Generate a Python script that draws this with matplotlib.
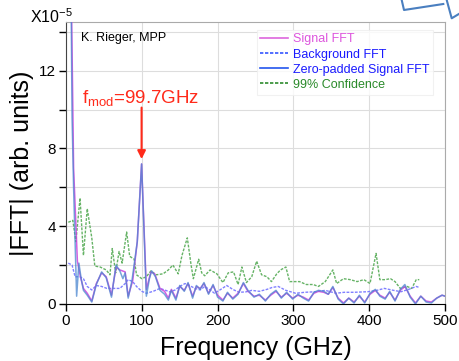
import matplotlib
matplotlib.use("Agg")
import matplotlib.pyplot as plt
from matplotlib.lines import Line2D

plt.rcParams['font.family'] = ['Liberation Sans', 'DejaVu Sans']
plt.rcParams['mathtext.fontset'] = 'custom'
plt.rcParams['mathtext.rm'] = 'Liberation Sans'
plt.rcParams['mathtext.it'] = 'Liberation Sans:italic'

# signal FFT (x1e-5)
sig_f = [5, 10, 15, 19, 23, 28, 34, 40, 47, 53, 60, 66, 71, 78, 82, 88, 94, 99.7,
         106, 112, 117, 124, 130, 135, 139, 145, 150, 156, 161, 167, 172, 177, 182,
         188, 194, 200, 207, 213, 220, 227, 234, 240, 248, 255, 263, 270, 277, 284,
         291, 299, 306, 313, 320, 327, 333, 340, 346, 352, 359, 366, 373, 380, 387,
         394, 401, 408, 414, 421, 427, 434, 441, 447, 454, 461, 468, 475, 482, 489,
         496, 500]
sig_v = [22, 7.0, 2.2, 1.4, 0.8, 0.55, 0.15, 1.05, 1.6, 1.4, 0.45, 1.9, 1.75, 1.65,
         0.4, 1.2, 3.2, 7.2, 0.75, 1.65, 1.55, 0.8, 0.65, 0.3, 0.75, 0.3, 0.9, 0.7,
         1.05, 0.4, 0.9, 0.8, 1.05, 0.55, 0.95, 0.45, 0.2, 0.55, 0.3, 0.55, 1.05,
         0.65, 0.4, 0.45, 0.2, 0.45, 0.65, 0.35, 0.55, 0.3, 0.45, 0.35, 0.2, 0.55,
         0.65, 0.6, 0.5, 0.85, 0.3, 0.05, 0.3, 0.1, 0.4, 0.1, 0.5, 0.7, 0.45, 0.3,
         0.6, 0.2, 0.7, 0.9, 0.4, 0.05, 0.4, 0.15, 0.1, 0.3, 0.45, 0.4]

# zero-padded signal FFT
zp_f = [5, 8, 10, 14, 17, 20, 23, 28, 34, 40, 47, 53, 60, 63, 66, 71, 75, 78, 82,
        87, 94, 99.7, 106, 110, 113, 118, 124, 130, 135, 139, 145, 150, 156, 161,
        167, 172, 177, 182, 188, 194, 200, 207, 213, 220, 227, 234, 240, 248, 255,
        263, 270, 277, 284, 291, 299, 306, 313, 320, 327, 333, 340, 346, 352, 359,
        366, 373, 380, 387, 394, 401, 408, 414, 421, 427, 434, 441, 447, 454, 461,
        468, 475, 482, 489, 496, 500]
zp_v = [24, 9.6, 6.0, 0.4, 2.1, 1.3, 0.7, 0.45, 0.1, 1.0, 1.65, 1.35, 0.35, 1.2,
        2.0, 1.7, 1.3, 1.6, 0.3, 1.2, 3.2, 7.2, 0.4, 1.3, 1.7, 1.4, 0.7, 0.5, 0.2,
        0.7, 0.2, 0.95, 0.65, 1.1, 0.3, 0.95, 0.75, 1.1, 0.5, 1.0, 0.35, 0.15, 0.6,
        0.25, 0.5, 1.1, 0.7, 0.35, 0.5, 0.15, 0.5, 0.7, 0.3, 0.6, 0.25, 0.5, 0.3,
        0.15, 0.6, 0.7, 0.65, 0.5, 0.9, 0.25, 0.0, 0.3, 0.05, 0.45, 0.05, 0.55,
        0.75, 0.4, 0.25, 0.65, 0.15, 0.75, 1.0, 0.35, 0.0, 0.4, 0.1, 0.05, 0.3,
        0.45, 0.4]

# background FFT
bg_f = [3, 8, 12, 18, 23, 28, 34, 40, 47, 54, 62, 71, 78, 82, 88, 93, 100, 106,
        115, 124, 130, 137, 144, 150, 157, 163, 170, 177, 183, 190, 196, 203, 212,
        220, 228, 237, 245, 255, 265, 272, 280, 290, 303, 315, 330, 342, 356, 367,
        380, 398, 410, 420, 432, 442, 452, 462, 466]
bg_v = [2.1, 2.0, 1.4, 1.4, 1.3, 0.9, 0.72, 0.95, 0.9, 0.8, 0.8, 0.8, 1.05, 1.25,
        1.15, 0.9, 0.65, 0.55, 0.65, 0.8, 0.72, 0.62, 0.72, 0.9, 1.05, 0.95, 0.8,
        0.72, 0.9, 0.72, 0.55, 0.72, 0.95, 0.75, 0.6, 0.62, 0.7, 0.65, 0.75, 0.85,
        0.9, 0.7, 0.55, 0.6, 0.63, 0.7, 0.55, 0.6, 0.6, 0.63, 0.7, 0.8, 0.7, 0.63,
        0.75, 0.9, 0.85]

# 99% confidence level
cl_f = [3, 9, 13, 18.5, 23, 28, 34, 38, 45, 53, 58, 61, 65.5, 70, 74, 80, 84, 90,
        93, 100, 106, 112, 119, 128, 135, 141, 148, 153, 160, 165, 168, 175, 179,
        183, 190, 199, 207, 214, 221, 227, 232, 238, 245, 251.5, 258, 265, 271,
        278, 283, 290, 295, 302, 308, 317, 326, 333, 342, 352, 357, 366, 375, 384,
        393, 401, 409, 414, 421, 428, 434, 441, 450, 456, 462, 466]
cl_v = [4.2, 4.3, 3.2, 5.45, 2.5, 4.9, 3.4, 1.95, 1.9, 1.75, 1.5, 2.85, 1.6, 2.7,
        2.1, 3.7, 2.45, 2.3, 1.5, 1.3, 1.4, 1.7, 1.5, 1.55, 1.75, 2.0, 1.55, 2.5,
        3.4, 2.0, 1.3, 2.3, 1.6, 1.45, 1.75, 1.55, 1.1, 1.6, 1.65, 1.0, 1.9, 1.1,
        1.4, 2.2, 1.5, 1.4, 1.15, 1.55, 1.75, 1.9, 1.15, 1.15, 1.15, 1.0, 1.0, 0.9,
        1.15, 1.75, 1.05, 1.3, 1.25, 1.15, 1.25, 1.05, 2.6, 1.25, 1.25, 1.3, 1.15,
        0.8, 0.9, 0.8, 1.25, 1.25]

fig = plt.figure(figsize=(4.6, 3.61), dpi=100)
ax = fig.add_axes([0.1435, 0.158, 0.824, 0.781])

ax.plot(cl_f, cl_v, color='#66b366', lw=1, ls=(0, (2, 1)), label='99% Confidence', zorder=2)
ax.plot(bg_f, bg_v, color='#8080ff', lw=1, ls=(0, (2, 1)), label='Background FFT', zorder=3)
ax.plot(sig_f, sig_v, color='#cc44dd', lw=1.1, alpha=0.85, label='Signal FFT', zorder=4)
ax.plot(zp_f, zp_v, color='#4a86d0', lw=1.1, alpha=0.75, label='Zero-padded Signal FFT', zorder=5)

ax.set_xlim(0, 500)
ax.set_ylim(0, 14.5)
ax.set_xticks([0, 100, 200, 300, 400, 500])
ax.set_yticks([0, 4, 8, 12])
ax.set_yticks([2, 6, 10, 14], minor=True)
ax.grid(True, which='both', color='#dddddd', lw=0.8)
ax.set_axisbelow(True)
ax.tick_params(which='both', direction='out', length=5, width=1, labelsize=11, pad=2)
for s in ['top', 'right']:
    ax.spines[s].set_color('#aaaaaa')
ax.spines['left'].set_color('#444444')

ax.set_xlabel('Frequency (GHz)', fontsize=18, labelpad=6)
ax.set_ylabel('|FFT| (arb. units)', fontsize=18, labelpad=4)

fig.text(0.065, 0.955, r'X10$^{\mathrm{-5}}$', fontsize=11.5, va='center')
ax.text(0.04, 0.965, 'K. Rieger, MPP', transform=ax.transAxes, fontsize=9, va='top')

ax.annotate('', xy=(99.7, 7.45), xytext=(99.7, 10.1),
            arrowprops=dict(arrowstyle='-|>', color='#ff2a1a', lw=1.5,
                            mutation_scale=12, shrinkA=0, shrinkB=0))
ax.text(21, 10.35, r'f$_{\mathrm{mod}}$=99.7GHz', color='#ff2a1a', fontsize=13.5)

# legend in custom order with coloured text
handles = [Line2D([], [], color='#dd66dd', lw=1.2),
           Line2D([], [], color='#3355ff', lw=1.2, ls=(0, (2, 1))),
           Line2D([], [], color='#2255ee', lw=1.2),
           Line2D([], [], color='#2e8b2e', lw=1.2, ls=(0, (2, 1)))]
labels = ['Signal FFT', 'Background FFT', 'Zero-padded Signal FFT', '99% Confidence']
leg = ax.legend(handles, labels, loc='upper right', bbox_to_anchor=(0.985, 0.995),
                fontsize=9, frameon=True, handlelength=2.2, handletextpad=0.4,
                labelspacing=0.25, borderpad=0.3, fancybox=False)
leg.get_frame().set_edgecolor('#eeeeee')
leg.get_frame().set_linewidth(0.8)
for t, c in zip(leg.get_texts(), ['#dd55dd', '#1a1aff', '#1a1aff', '#2a8a2a']):
    t.set_color(c)

# callout outline in the top-right corner
W, H = 460.0, 361.0
for xs, ys in [([401.7, 404, 443.3], [0, 10, 4]), ([446.7, 451.7, 460], [0, 18.3, 13.3])]:
    fig.add_artist(Line2D([x / W for x in xs], [1 - y / H for y in ys],
                          color='#4a7fc0', lw=1.5, transform=fig.transFigure))

fig.savefig('out.png', dpi=100)
